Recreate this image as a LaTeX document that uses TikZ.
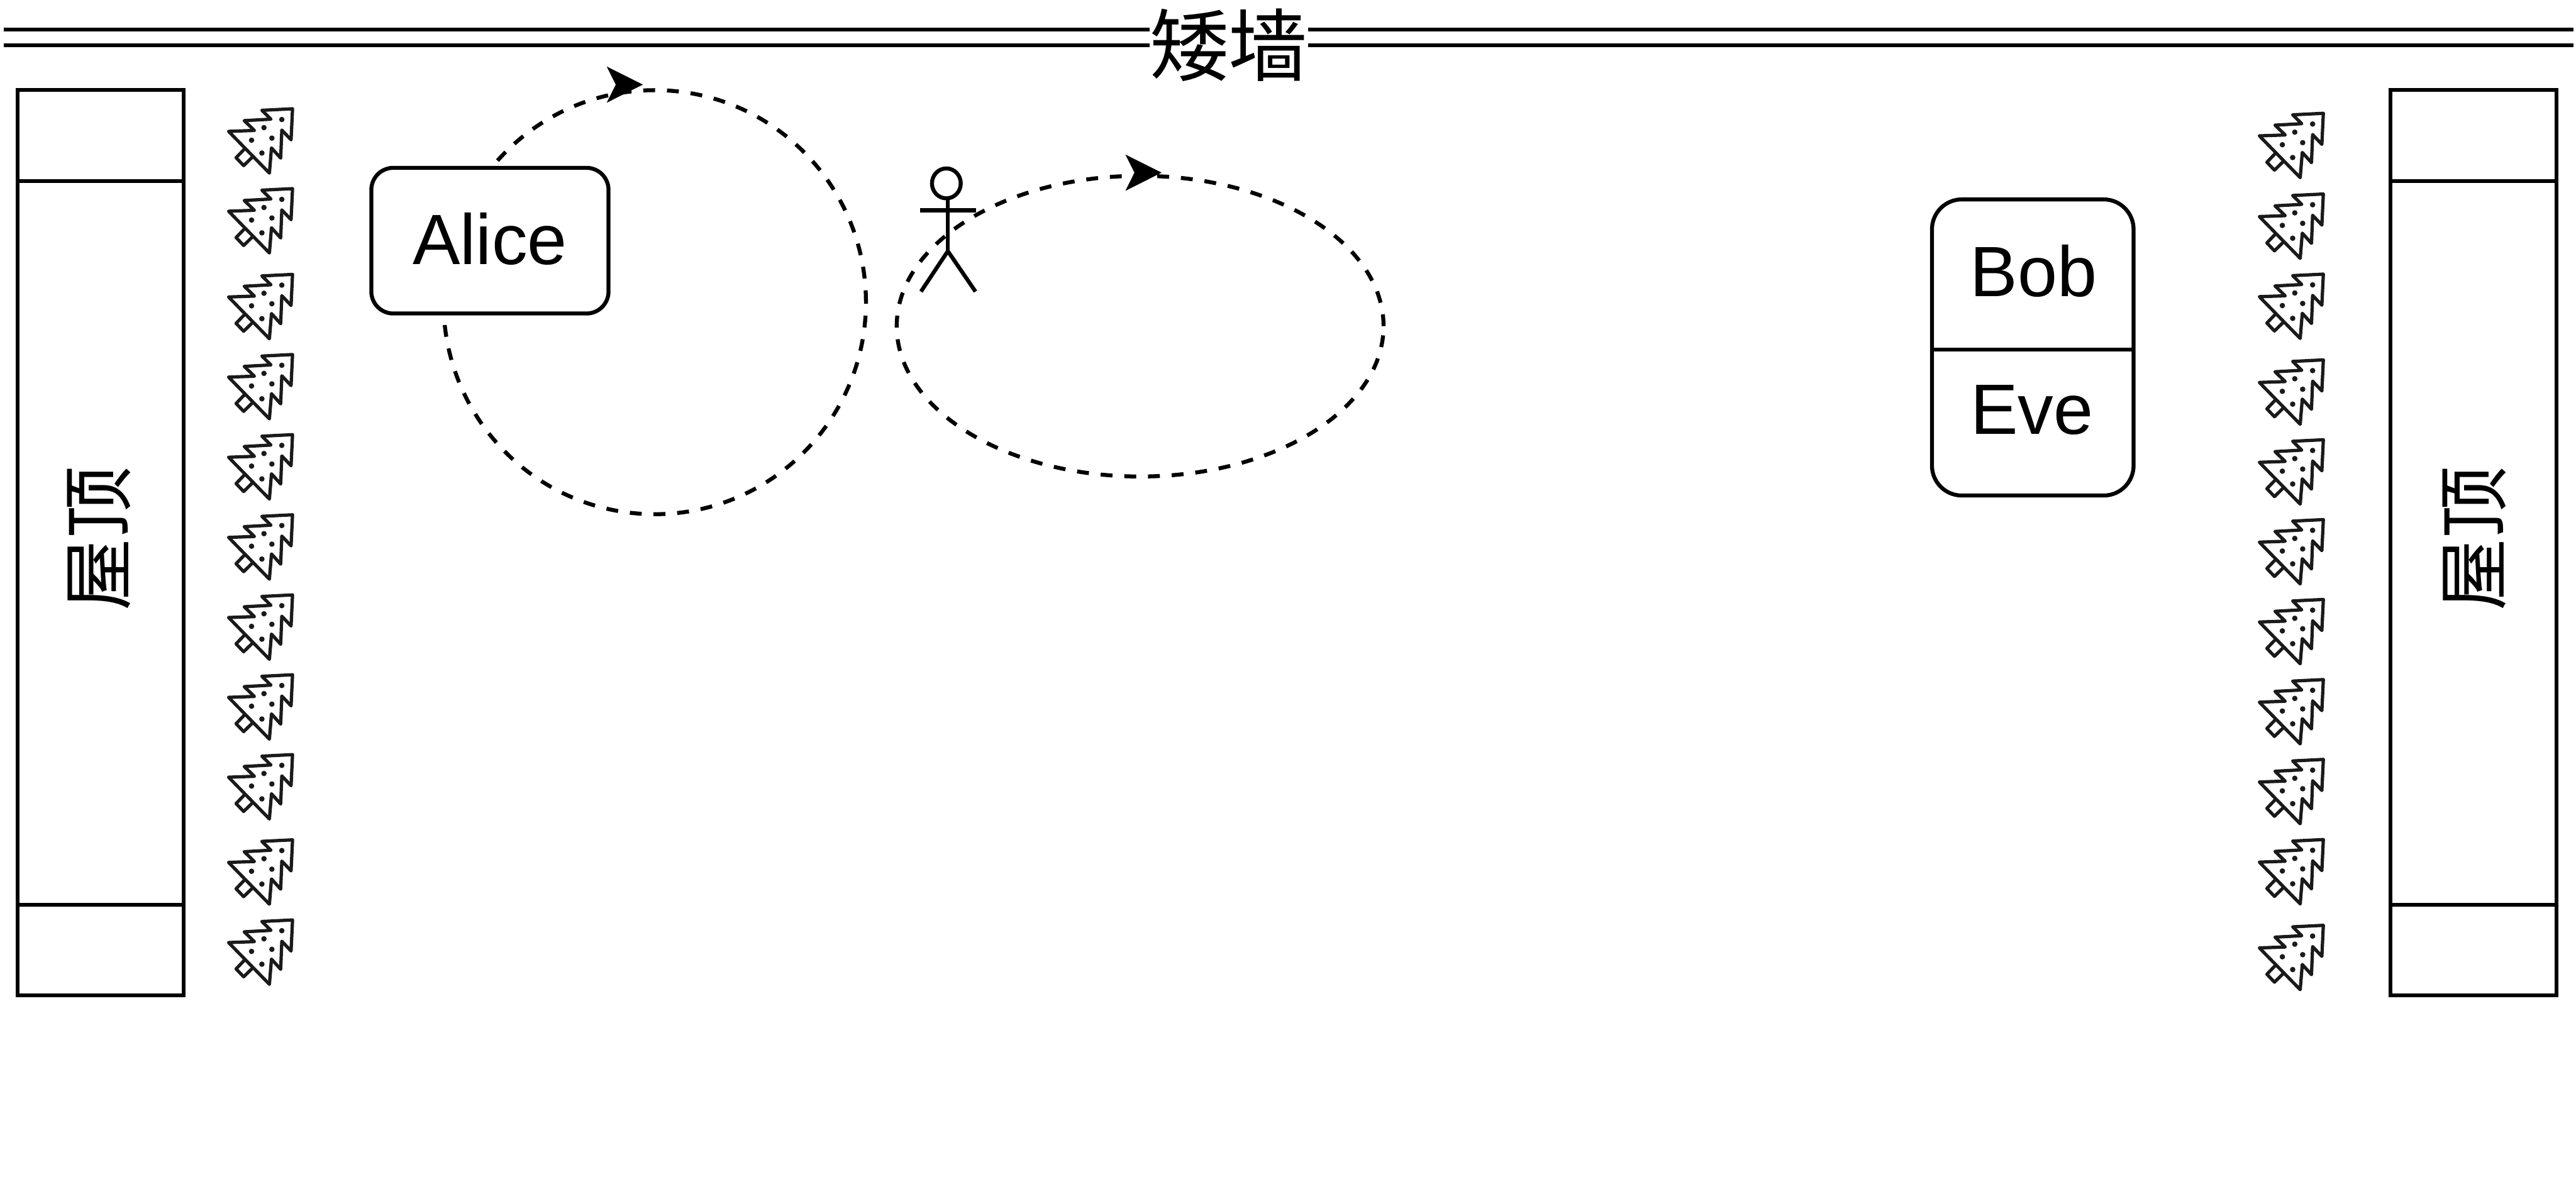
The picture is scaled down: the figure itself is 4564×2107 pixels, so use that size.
\documentclass[tikz,border=0pt]{standalone}
\usepackage{fontspec}
\setmainfont{Liberation Sans}
\newfontfamily\cjkfont{Noto Sans CJK SC}
\usetikzlibrary{positioning, shapes.geometric, arrows.meta, calc}
\definecolor{treeink}{HTML}{1A1A1A}
\tikzset{
  plainline/.style={line width=0.07cm},
  wallline/.style={line width=0.07cm, double, double distance=0.21cm},
  roofbox/.style={draw, line width=0.07cm, outer sep=0pt, inner sep=0pt, minimum width=2.94cm, minimum height=16.035cm},
  namebox/.style={draw, fill=white, line width=0.07cm, outer sep=0pt, inner sep=0pt, font=\fontsize{35.9pt}{40pt}\selectfont},
  nametext/.style={anchor=base, inner sep=0pt, font=\fontsize{35.9pt}{40pt}\selectfont},
  rooftext/.style={rotate=90, inner sep=0pt, font=\cjkfont\fontsize{36.4pt}{40pt}\selectfont},
  loopline/.style={draw, ellipse, line width=0.07cm, inner sep=0pt, outer sep=0pt, dash pattern=on 0.21cm off 0.21cm},
  loophead/.style={line width=0.4pt, -{Stealth[length=0.64cm, width=0.64cm, inset=0.16cm]}},
  firtree/.pic={
    \draw[treeink, line width=0.058cm, line join=round, line cap=round]
      (138.3,23.3) -- (135.7,78.3) -- (119.3,61) -- (117.3,110.7) -- (101,92.7) -- (97.3,137.3)
      -- (25,63.3) -- (70.7,61.7) -- (52.7,44.3) -- (100,41.7) -- (84,26) -- cycle;
    \draw[treeink, line width=0.058cm, line join=round]
      (52.7,95) -- (38.3,110) -- (51.7,124) -- (66.7,109.3);
    \fill[treeink] (119.3,42.3) circle[radius=4.8] (87.7,56.7) circle[radius=4.8]
      (65.7,79) circle[radius=4.8] (101.7,75.3) circle[radius=4.8] (84,101.7) circle[radius=4.8];
  }
}
\begin{document}
\begin{tikzpicture}[x=0.01cm, y=-0.01cm]
  \useasboundingbox (0,0) rectangle (4564,2107);
  \coordinate (wallL) at (7,66);
  \coordinate (wallR) at (4560,66);
  \draw[wallline] (wallL) -- (wallR);
  \node[fill=white, inner sep=0pt, minimum width=2.8cm, font=\cjkfont\fontsize{39.8pt}{44pt}\selectfont] (wallname) at (2177,80) {矮墙};

  \node[roofbox] (roofL) at (178.25,961.75) {};
  \draw[plainline] ($(roofL.north west)+(0,161.5)$) -- ($(roofL.north east)+(0,161.5)$);
  \draw[plainline] ($(roofL.south west)+(0,-160.5)$) -- ($(roofL.south east)+(0,-160.5)$);
  \node[rooftext] (roofLname) at (175,954) {屋顶};
  \node[roofbox] (roofR) at (4382.25,961.75) {};
  \draw[plainline] ($(roofR.north west)+(0,161.5)$) -- ($(roofR.north east)+(0,161.5)$);
  \draw[plainline] ($(roofR.south west)+(0,-160.5)$) -- ($(roofR.south east)+(0,-160.5)$);
  \node[rooftext] (roofRname) at (4384,954) {屋顶};

  \pic (treeL1) at (380,169.5) {firtree};
  \pic (treeL2) at (380,311) {firtree};
  \pic (treeL3) at (380,463) {firtree};
  \pic (treeL4) at (380,605) {firtree};
  \pic (treeL5) at (380,747) {firtree};
  \pic (treeL6) at (380,889) {firtree};
  \pic (treeL7) at (380,1031) {firtree};
  \pic (treeL8) at (380,1172.5) {firtree};
  \pic (treeL9) at (380,1314) {firtree};
  \pic (treeL10) at (380,1465) {firtree};
  \pic (treeL11) at (380,1607) {firtree};
  \pic (treeR1) at (3978,177.5) {firtree};
  \pic (treeR2) at (3978,320.5) {firtree};
  \pic (treeR3) at (3978,462.5) {firtree};
  \pic (treeR4) at (3978,614.5) {firtree};
  \pic (treeR5) at (3978,756) {firtree};
  \pic (treeR6) at (3978,897.5) {firtree};
  \pic (treeR7) at (3978,1039) {firtree};
  \pic (treeR8) at (3978,1181) {firtree};
  \pic (treeR9) at (3978,1322.5) {firtree};
  \pic (treeR10) at (3978,1464.5) {firtree};
  \pic (treeR11) at (3978,1616.5) {firtree};

  \node[plainline, draw, ellipse, inner sep=0pt, outer sep=0pt, minimum width=0.51cm, minimum height=0.53cm] (head) at (1676.7,325) {};
  \coordinate (neck) at (1679.3,351.5);
  \coordinate (hip) at (1679.3,445);
  \coordinate (armL) at (1630,372.7);
  \coordinate (armR) at (1729.3,372.7);
  \coordinate (footL) at (1631.7,516.7);
  \coordinate (footR) at (1728.3,516.7);
  \draw[plainline] (neck) -- (hip);
  \draw[plainline] (armL) -- (armR);
  \draw[plainline] (footL) -- (hip) -- (footR);

  \node[loopline, minimum width=7.48cm, minimum height=7.51cm] (loopA) at (1160,535.5) {};
  \coordinate (tailA) at (1092,150);
  \coordinate (tipA) at (1139,150);
  \draw[loophead] (tailA) -- (tipA);
  \node[loopline, minimum width=8.62cm, minimum height=5.325cm] (loopB) at (2020,578) {};
  \coordinate (tailB) at (2011,306);
  \coordinate (tipB) at (2058,306);
  \draw[loophead] (tailB) -- (tipB);

  \node[namebox, rounded corners=0.39cm, minimum width=4.2cm, minimum height=2.58cm, text depth=2pt] (alice) at (868,426.5) {Alice};
  \node[namebox, rounded corners=0.53cm, minimum width=3.57cm, minimum height=5.245cm] (bobeve) at (3601.5,615.75) {};
  \draw[plainline] ($(bobeve.west)+(0,4)$) -- ($(bobeve.east)+(0,4)$);
  \node[nametext] (bob) at (3603,525) {Bob};
  \node[nametext] (eve) at (3600,769.5) {Eve};
\end{tikzpicture}
\end{document}
